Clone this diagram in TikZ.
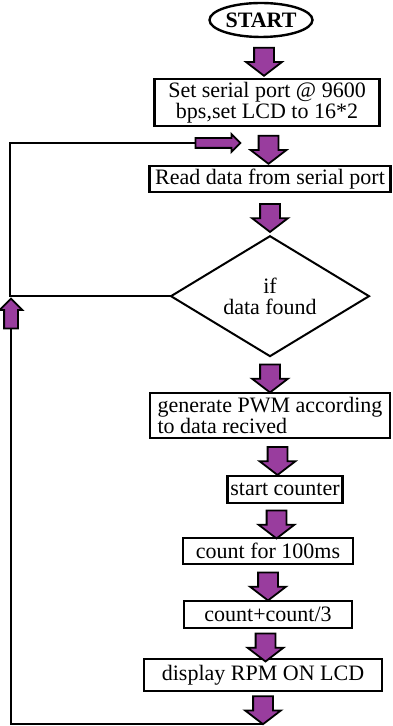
\documentclass[tikz,border=0pt]{standalone}
\usepackage{fontspec}
\setmainfont{Liberation Serif}
\usetikzlibrary{positioning,shapes.geometric,shapes.arrows}
\definecolor{flowpurple}{HTML}{993D9E}

\begin{document}
\begin{tikzpicture}[x=0.5pt, y=-0.5pt,
    every node/.style={font=\fontsize{11}{10.5}\selectfont},
    block/.style={rectangle, draw, line width=1.2pt, inner sep=1.5pt, outer sep=0pt, align=center},
    terminal/.style={ellipse, draw, line width=1.2pt, inner sep=0pt, outer sep=0pt, minimum width=51.5pt, minimum height=17pt, font=\fontsize{11}{10.5}\selectfont\bfseries},
    decision/.style={diamond, draw, line width=1pt, inner sep=0pt, outer sep=0pt, aspect=1.65, minimum width=99pt, minimum height=60pt, align=center},
    flow/.style={single arrow, draw, line width=0.9pt, fill=flowpurple, shape border rotate=270, minimum height=14pt, minimum width=0pt, outer sep=0pt, inner ysep=0pt, inner xsep=4.5pt, single arrow head extend=4pt, single arrow tip angle=105},
    sideflow/.style={single arrow, draw, line width=0.9pt, fill=flowpurple, minimum height=22.5pt, minimum width=0pt, outer sep=0pt, inner xsep=0pt, inner ysep=2pt, single arrow head extend=2pt, single arrow tip angle=90},
    upflow/.style={single arrow, draw, line width=0.9pt, fill=flowpurple, shape border rotate=90, minimum height=15pt, minimum width=0pt, outer sep=0pt, inner ysep=0pt, inner xsep=3pt, single arrow head extend=2.25pt, single arrow tip angle=90},
    loopline/.style={line width=1pt}
]
\useasboundingbox (0,0) rectangle (392,726);

\node[terminal] (start) at (261,20) {START};
\node[block, below=21pt of start, xshift=3pt, minimum width=112.5pt, minimum height=23.5pt] (setup) {Set serial port @ 9600\\bps,set LCD to 16*2};
\node[block, below=20pt of setup, xshift=1.5pt, minimum width=120.5pt, minimum height=13pt] (read) {Read data from serial port};
\node[decision, below=22pt of read] (found) {if\\data found};
\node[block, below=18.5pt of found, minimum width=120pt, minimum height=22.5pt, align=left] (pwm) {generate PWM according\\to data recived};
\node[block, below=19pt of pwm, xshift=7.5pt, minimum width=47pt, minimum height=13.5pt] (counter) {start counter};
\node[block, below=17.5pt of counter, xshift=-8.5pt, minimum width=85pt, minimum height=13pt] (count) {count for 100ms};
\node[block, below=18.5pt of count, minimum width=84pt, minimum height=13.5pt] (scale) {count+count/3};
\node[block, below=15.5pt of scale, xshift=-2.5pt, minimum width=119pt, minimum height=16pt] (display) {display RPM ON LCD};

\path (start.south) -- node[flow] {} (setup.north);
\path (setup.south) -- node[flow] {} (read.north);
\path (read.south) -- node[flow] {} (found.north);
\path (found.south) -- node[flow] {} (pwm.north);
\path (pwm.south) -- node[flow] {} (counter.north);
\path (counter.south) -- node[flow] {} (count.north);
\path (count.south) -- node[flow] {} (scale.north);
\path (scale.south) -- node[flow] {} (display.north);
\node[flow, below=2.5pt of display] (exit) {};

\coordinate (corner) at (10,143);
\node[sideflow] (entry) at (215.5,143) {};
\node[upflow] (back) at (11,317) {};

\draw[loopline] (found.west) -| (corner) -- (entry.tail);
\draw[loopline] (exit.tip) -| (back.tail);
\end{tikzpicture}
\end{document}
